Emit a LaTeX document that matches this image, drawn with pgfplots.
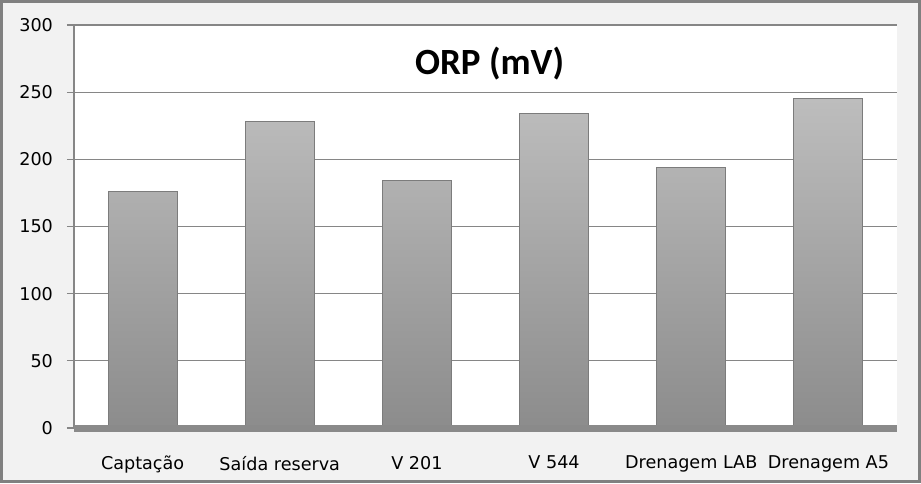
\documentclass[border=0pt]{standalone}
\usepackage{pgfplots}
\pgfplotsset{compat=1.18}
\usepackage{fontspec}
\setmainfont{DejaVu Sans}
\newfontfamily\titlefont{Carlito}
\definecolor{chartbg}{HTML}{F2F2F2}
\definecolor{gridgray}{HTML}{868686}
\definecolor{framegray}{HTML}{808080}
\definecolor{bartop}{HTML}{BDBDBD}
\definecolor{barbot}{HTML}{8C8C8C}
\definecolor{baredge}{HTML}{7C7C7C}
\definecolor{floorgray}{HTML}{8A8A8A}

\begin{document}
\begin{tikzpicture}
% chart area
\fill[chartbg] (0pt,0pt) rectangle (460.5pt,241.5pt);
\draw[framegray, line width=1.4pt] (0.7pt,0.7pt) rectangle (459.8pt,240.8pt);
\begin{axis}[
    at={(37pt,27.5pt)}, anchor=south west,
    scale only axis,
    width=411.5pt, height=201.5pt,
    axis background/.style={fill=white},
    clip=false,
    ybar, bar width=34.5pt,
    xmin=-0.5, xmax=5.5,
    ymin=0, ymax=300,
    ytick distance=50,
    xtick=data,
    xticklabels={Captação, Saída reserva, V 201, V 544, Drenagem LAB, Drenagem A5},
    axis y line*=left,
    axis x line*=bottom,
    x axis line style={draw=none},
    y axis line style={gridgray, line width=0.6pt},
    ymajorgrids,
    grid style={gridgray, line width=0.6pt},
    tick align=outside,
    major tick length=3.5pt,
    ytick style={gridgray, line width=0.6pt},
    xtick style={draw=none},
    /pgf/number format/assume math mode=true,
    tick label style={font=\fontsize{8.8}{10}\selectfont, text=black},
    xticklabel style={yshift=-7pt},
    yticklabel style={xshift=-3.5pt},
    title={\titlefont\bfseries ORP (mV)},
    title style={at={(0.505,0.875)}, anchor=center, font=\fontsize{18.5}{21}\selectfont},
]
\addplot[top color=bartop, bottom color=barbot, draw=baredge, line width=0.5pt]
    coordinates {(0,176) (1,228) (2,184) (3,234) (4,194) (5,245)};
\draw[floorgray, line width=3.5pt] (rel axis cs:0,0) -- (rel axis cs:1,0);
\end{axis}
\end{tikzpicture}
\end{document}
